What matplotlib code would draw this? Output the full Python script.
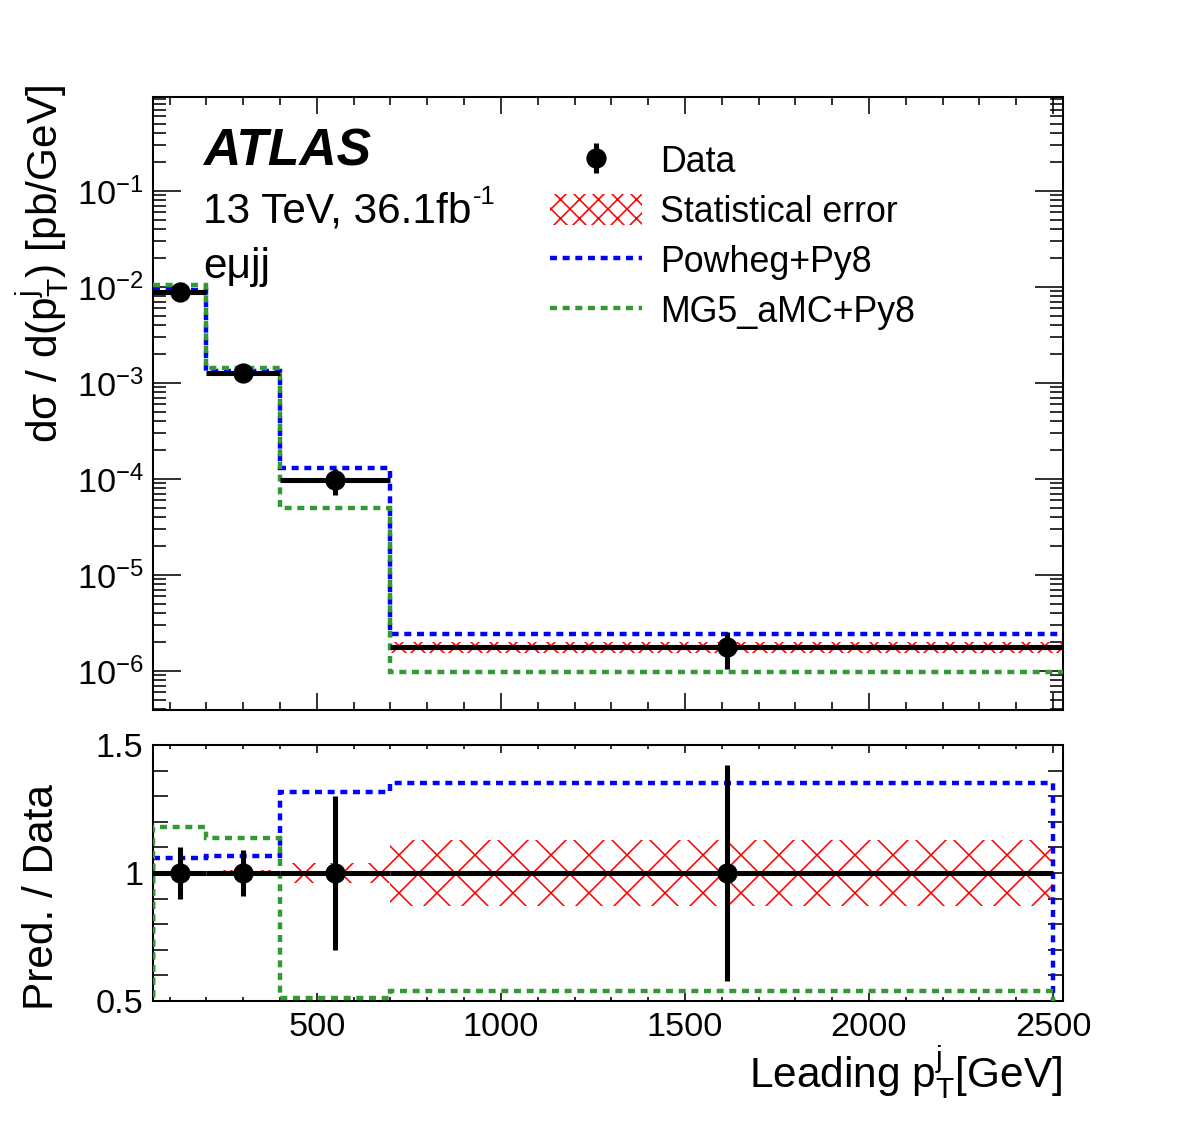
import numpy as np
import matplotlib
matplotlib.use('Agg')
import matplotlib.pyplot as plt
from matplotlib.lines import Line2D
from matplotlib.patches import Patch
from matplotlib.ticker import (MultipleLocator, NullFormatter, FixedLocator,
                               FixedFormatter, LogFormatterSciNotation)

# ---------------- data ----------------
bin_edges = [55, 200, 400, 700, 2527]        # top panel binning (GeV)
ratio_edges = [55, 200, 400, 700, 2500]      # ratio panel binning (GeV)
data = [8.8e-3, 1.26e-3, 9.8e-5, 1.79e-6]    # pb/GeV
data_err_rel = [0.10, 0.09, 0.30, 0.42]
stat_err_rel = [0.006, 0.012, 0.04, 0.13]
powheg = [9.30e-3, 1.345e-3, 1.29e-4, 2.42e-6]
mg5 = [1.037e-2, 1.43e-3, 5.03e-5, 9.67e-7]
x_ticks = [500, 1000, 1500, 2000, 2500]
y_decades = [1e-6, 1e-5, 1e-4, 1e-3, 1e-2, 1e-1]
ratio_ticks = [0.5, 1.0, 1.5]
ratio_ticklabels = ['0.5', '1', '1.5']
legend_labels = ['Data', 'Statistical error', 'Powheg+Py8', 'MG5_aMC+Py8']

# ---------------- style ----------------
plt.rcParams['font.family'] = ['Liberation Sans', 'DejaVu Sans']
plt.rcParams['mathtext.fontset'] = 'custom'
plt.rcParams['mathtext.rm'] = 'Liberation Sans'
plt.rcParams['mathtext.it'] = 'Liberation Sans:italic'
plt.rcParams['mathtext.bf'] = 'Liberation Sans:bold'
plt.rcParams['hatch.linewidth'] = 0.5
plt.rcParams['lines.scale_dashes'] = False
plt.rcParams['axes.linewidth'] = 0.65

DPI = 228
W, H = 1182, 1123
fig = plt.figure(figsize=(W / DPI, H / DPI), dpi=DPI)
ax = fig.add_axes([153 / W, 1 - 710 / H, 910 / W, 613 / H])
axr = fig.add_axes([153 / W, 1 - 1001 / H, 910 / W, 256 / H])

BLUE = '#0000ff'
GREEN = '#339933'
DASH = (0, (2.2, 1.8))
LW = 1.4
TICK_FS = 10.8

edges = np.array(bin_edges, dtype=float)
redges = np.array(ratio_edges, dtype=float)
d = np.array(data)
derr = np.array(data_err_rel)
serr = np.array(stat_err_rel)
pw = np.array(powheg)
mg = np.array(mg5)
centers = 0.5 * (edges[:-1] + edges[1:])

# ---------------- top panel ----------------
ax.bar(edges[:-1], 2 * d * serr, width=np.diff(edges), bottom=d * (1 - serr),
       align='edge', fill=False, hatch='xxxx', edgecolor='red', linewidth=0, zorder=2)
ax.stairs(pw, edges, baseline=None, color=BLUE, lw=LW, ls=DASH, zorder=3)
ax.stairs(mg, edges, baseline=None, color=GREEN, lw=LW, ls=DASH, zorder=3)
ax.errorbar(centers, d, xerr=[centers - edges[:-1], edges[1:] - centers],
            yerr=d * derr, fmt='o', color='k', ms=5.4, elinewidth=1.6,
            capsize=0, zorder=4)

ax.set_xlim(edges[0], edges[-1])
ax.set_yscale('log')
ax.set_ylim(3.93e-7, 0.953)
ax.xaxis.set_major_locator(FixedLocator(x_ticks))
ax.xaxis.set_minor_locator(MultipleLocator(100))
ax.yaxis.set_major_locator(FixedLocator(y_decades))
ax.yaxis.set_major_formatter(LogFormatterSciNotation())
minor_y = [m * dec for dec in [1e-7] + y_decades for m in range(2, 10)]
minor_y = [v for v in minor_y if 3.93e-7 <= v <= 0.953]
ax.yaxis.set_minor_locator(FixedLocator(minor_y))
ax.yaxis.set_minor_formatter(NullFormatter())
ax.tick_params(which='both', direction='in', top=True, right=True,
               labelbottom=False, width=0.5, labelsize=TICK_FS, pad=3)
ax.tick_params(axis='x', which='major', length=5.4)
ax.tick_params(axis='x', which='minor', length=2.6)
ax.tick_params(axis='y', which='major', length=8.8)
ax.tick_params(axis='y', which='minor', length=4.1)

# legend
h_data = (Line2D([], [], ls='none', marker='|', ms=9.5, mew=1.6, color='k'),
          Line2D([], [], ls='none', marker='o', ms=5.4, color='k'))
h_stat = Patch(facecolor='none', edgecolor='red', hatch='xxxx', linewidth=0)
h_pw = Line2D([], [], color=BLUE, lw=LW, ls=DASH)
h_mg = Line2D([], [], color=GREEN, lw=LW, ls=DASH)
ax.legend([h_data, h_stat, h_pw, h_mg], legend_labels, loc='upper left',
          bbox_to_anchor=(0.4363, 0.9235), frameon=False, fontsize=11.3,
          handlelength=2.57, handleheight=0.97, handletextpad=0.5,
          labelspacing=0.39, borderpad=0, borderaxespad=0)

# ---------------- ratio panel ----------------
ones = np.ones_like(d)
axr.bar(redges[:-1], 2 * serr, width=np.diff(redges), bottom=1 - serr,
        align='edge', fill=False, hatch='xx', edgecolor='red', linewidth=0, zorder=2)
axr.stairs(pw / d, redges, baseline=0, color=BLUE, lw=LW, ls=DASH, zorder=3)
axr.stairs(mg / d, redges, baseline=0, color=GREEN, lw=LW, ls=DASH, zorder=3)
axr.errorbar(centers, ones, xerr=[centers - redges[:-1], redges[1:] - centers],
             yerr=derr, fmt='o', color='k', ms=5.4, elinewidth=1.6,
             capsize=0, zorder=4)
axr.set_xlim(edges[0], edges[-1])
axr.set_ylim(0.5, 1.5)
axr.xaxis.set_major_locator(FixedLocator(x_ticks))
axr.xaxis.set_minor_locator(MultipleLocator(100))
axr.yaxis.set_major_locator(FixedLocator(ratio_ticks))
axr.yaxis.set_major_formatter(FixedFormatter(ratio_ticklabels))
axr.yaxis.set_minor_locator(MultipleLocator(0.1))
axr.tick_params(which='both', direction='in', top=True, right=True,
                width=0.5, labelsize=TICK_FS, pad=3)
axr.tick_params(axis='x', which='major', length=2.6, pad=3.5)
axr.tick_params(axis='x', which='minor', length=1.3)
axr.tick_params(axis='y', which='major', length=9.0)
axr.tick_params(axis='y', which='minor', length=4.7)

# ---------------- texts ----------------
fig.text(203 / W, 1 - 165 / H, 'ATLAS', fontsize=16.3, fontweight='bold',
         fontstyle='italic', va='baseline', ha='left')
t_lumi = fig.text(203 / W, 1 - 222 / H, '13 TeV, 36.1fb', fontsize=13.4,
                  va='baseline', ha='left')
fig.text(203 / W, 1 - 278 / H, 'eμjj', fontsize=13.4, va='baseline', ha='left')

renderer = fig.canvas.get_renderer()
bb = t_lumi.get_window_extent(renderer)
fig.text((bb.x1 + 1) / W, 1 - 204 / H, '-1', fontsize=8.0, va='baseline', ha='left')

fig.text(43 / W, 1 - 85 / H, 'dσ / d(p$_{\\mathrm{T}}^{\\mathrm{j}}$) [pb/GeV]',
         rotation=90, ha='center', va='top', fontsize=13.4)
fig.text(42 / W, 1 - 897 / H, 'Pred. / Data', rotation=90, ha='center',
         va='center', fontsize=13.4)
fig.text(1062 / W, 1 - 1088 / H, 'Leading p$_{\\mathrm{T}}^{\\mathrm{j}}$[GeV]',
         ha='right', va='baseline', fontsize=13.4)

fig.savefig('out.png', dpi=DPI)
